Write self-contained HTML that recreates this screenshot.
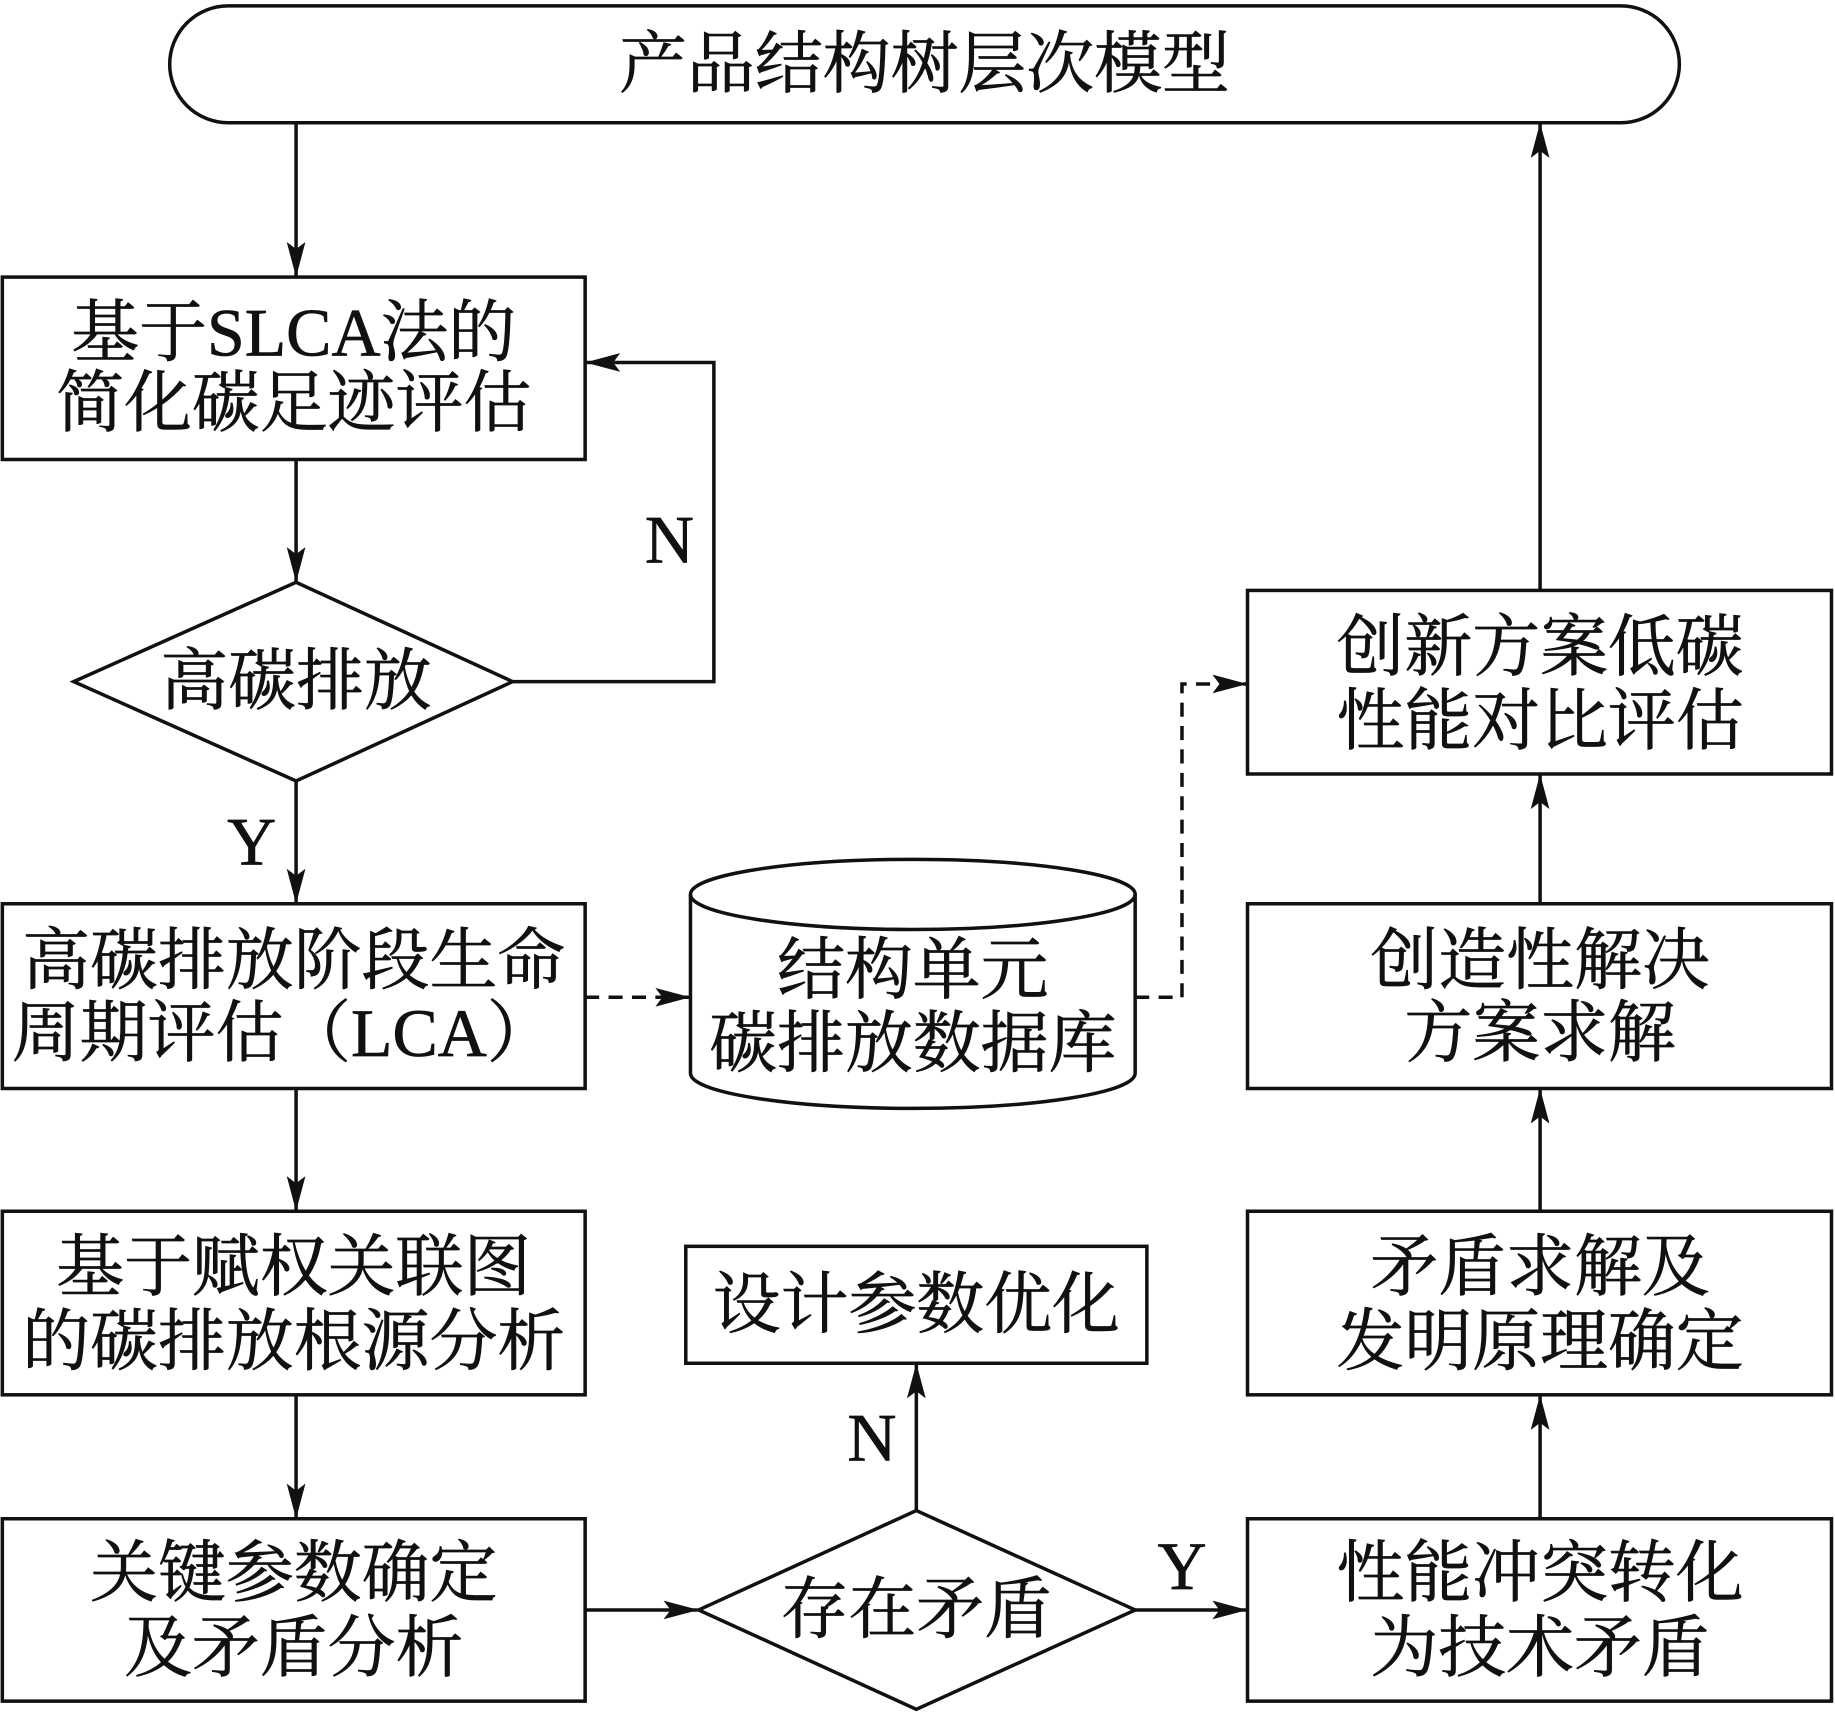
<!DOCTYPE html>
<html><head><meta charset="utf-8">
<style>
html,body{margin:0;padding:0;background:#fff;}
svg{display:block;}
text{font-family:"Liberation Serif","Noto Serif CJK SC",serif;font-size:58px;fill:#111;stroke:#111;stroke-width:0.6;text-anchor:middle;dominant-baseline:central;}
</style></head><body>
<svg width="1835" height="1714" viewBox="0 0 1568 1466" preserveAspectRatio="none" xmlns="http://www.w3.org/2000/svg">
<defs>
<marker id="b" markerWidth="30" markerHeight="16" refX="29" refY="8" orient="auto" markerUnits="userSpaceOnUse" viewBox="0 0 30 16">
<path d="M0,0 L30,8 L0,16 L6,8 Z" fill="#111"/></marker>
</defs>
<g fill="none" stroke="#111" stroke-width="3">
<rect x="145" y="5" width="1290" height="100" rx="50"/>
<rect x="2" y="237" width="498" height="156"/>
<polygon points="63,583 253,498 438,583 253,668"/>
<rect x="2" y="773" width="498" height="158"/>
<rect x="2" y="1036" width="498" height="157"/>
<rect x="2" y="1299" width="498" height="156"/>
<polygon points="597,1377 783,1292 970,1377 783,1462"/>
<rect x="586" y="1066" width="394" height="100"/>
<rect x="1066" y="505" width="499" height="157"/>
<rect x="1066" y="773" width="499" height="158"/>
<rect x="1066" y="1036" width="499" height="157"/>
<rect x="1066" y="1299" width="499" height="156"/>
<path d="M590,765 L590,918 A190,30 0 0 0 970,918 L970,765"/>
<ellipse cx="780" cy="765" rx="190" ry="30"/>
<g marker-end="url(#b)">
<line x1="253" y1="105" x2="253" y2="236"/>
<line x1="253" y1="393" x2="253" y2="497"/>
<polyline points="438,583 610,583 610,310 501,310"/>
<line x1="253" y1="668" x2="253" y2="772"/>
<line x1="253" y1="931" x2="253" y2="1035"/>
<line x1="253" y1="1193" x2="253" y2="1298"/>
<line x1="500" y1="1377" x2="596" y2="1377"/>
<line x1="970" y1="1377" x2="1065" y2="1377"/>
<line x1="783" y1="1292" x2="783" y2="1167"/>
<line x1="1316" y1="1299" x2="1316" y2="1194"/>
<line x1="1316" y1="1036" x2="1316" y2="932"/>
<line x1="1316" y1="773" x2="1316" y2="663"/>
<line x1="1316" y1="505" x2="1316" y2="106"/>
</g>
<g stroke-dasharray="12,8" marker-end="url(#b)">
<line x1="500" y1="853" x2="589" y2="853"/>
<polyline points="970,853 1010,853 1010,585 1065,585"/>
</g>
</g>
<text x="790" y="55">产品结构树层次模型</text>
<text x="251" y="285">基于SLCA法的</text>
<text x="251" y="345">简化碳足迹评估</text>
<text x="253" y="583">高碳排放</text>
<text x="572" y="462">N</text>
<text x="215" y="720">Y</text>
<text x="251" y="822">高碳排放阶段生命</text>
<text x="242" y="884">周期评估（LCA）</text>
<text x="780" y="830">结构单元</text>
<text x="780" y="893">碳排放数据库</text>
<text x="251" y="1084">基于赋权关联图</text>
<text x="251" y="1148">的碳排放根源分析</text>
<text x="251" y="1346">关键参数确定</text>
<text x="251" y="1410">及矛盾分析</text>
<text x="783" y="1377">存在矛盾</text>
<text x="1010" y="1340">Y</text>
<text x="745" y="1230">N</text>
<text x="783" y="1116">设计参数优化</text>
<text x="1316" y="554">创新方案低碳</text>
<text x="1316" y="617">性能对比评估</text>
<text x="1316" y="822">创造性解决</text>
<text x="1316" y="884">方案求解</text>
<text x="1316" y="1084">矛盾求解及</text>
<text x="1316" y="1148">发明原理确定</text>
<text x="1316" y="1346">性能冲突转化</text>
<text x="1316" y="1410">为技术矛盾</text>
</svg>
</body></html>
